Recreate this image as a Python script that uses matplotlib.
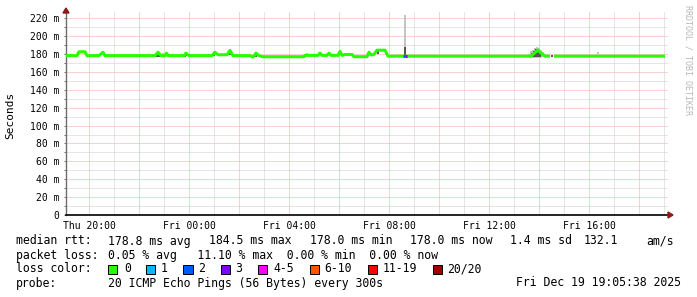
import numpy as np
import matplotlib
matplotlib.use("Agg")
import matplotlib.pyplot as plt
from matplotlib.patches import Rectangle, Polygon

# ---------------- data (hours relative to Thu 20:00) ----------------
rtt_hours = [-0.92, -0.48, -0.40, -0.16, -0.08, 0.40, 0.56, 0.64, 2.64, 2.76, 2.88,
             3.04, 3.10, 3.16, 3.80, 3.88, 4.00, 4.92, 5.04, 5.16, 5.52, 5.64, 5.76,
             6.44, 6.56, 6.68, 6.80, 6.96, 8.60, 8.64, 9.16, 9.24, 9.32, 9.52, 9.60,
             9.68, 9.96, 10.04, 10.12, 10.24, 10.52, 10.60, 11.12, 11.20, 11.28, 11.40,
             11.52, 11.84, 11.96, 17.68, 17.96, 18.12, 18.24, 18.44, np.nan, 18.60, 23.04]
rtt_ms = [178.2, 178.2, 182.5, 182.5, 178.2, 178.2, 182.0, 178.2, 178.2, 182.0, 178.2,
          178.2, 181.0, 178.2, 178.2, 181.0, 178.2, 178.2, 182.0, 179.2, 179.2, 184.0, 178.2,
          178.2, 176.5, 181.0, 178.2, 177.0, 177.0, 178.5, 178.5, 181.0, 178.5, 178.5, 181.0,
          178.5, 178.5, 183.0, 178.5, 179.5, 179.5, 177.0, 177.0, 182.0, 179.0, 179.5,
          184.3, 184.3, 177.6, 177.6, 184.5, 180.0, 177.6, 177.6, np.nan, 177.6, 177.6]

smoke_light_hours = [2.96, 3.08, 8.72, 12.64, 17.60, 17.68, 17.76, 17.84, 17.92, 18.00, 18.08, 18.16, 18.24, 20.36]
smoke_light_lo = [178.0, 178.0, 179.5, 178.0, 176.5, 176.0, 175.5, 175.5, 175.5, 175.5, 176.0, 176.5, 177.0, 180.0]
smoke_light_hi = [181.0, 181.5, 181.5, 224.0, 180.0, 183.0, 185.0, 187.0, 187.5, 186.5, 184.5, 182.0, 179.5, 182.5]

smoke_dark_hours = [2.72, 2.80, 3.84, 3.92, 5.00, 5.64, 6.68, 9.24, 9.60, 10.04, 11.20,
                    11.56, 12.64, 17.72, 17.80, 17.88, 17.96, 18.04, 18.52]
smoke_dark_lo = [177.0, 177.0, 177.0, 177.5, 178.0, 179.0, 177.0, 179.0, 179.0, 179.5, 179.0,
                 180.0, 178.0, 177.0, 177.0, 176.5, 177.0, 177.0, 177.0]
smoke_dark_hi = [182.5, 182.0, 181.5, 181.0, 182.5, 184.5, 181.5, 181.5, 181.5, 183.0, 182.0,
                 183.5, 188.0, 181.5, 183.5, 185.5, 185.0, 183.0, 178.5]

loss_hours = [12.60, 12.68]
loss_pings_idx = [2, 3]
loss_rtt = [178.0, 178.0]

loss_labels = ["0", "1", "2", "3", "4-5", "6-10", "11-19", "20/20"]
loss_colors = ["#26ff00", "#00b8ff", "#0059ff", "#7e00ff", "#ff00ff", "#ff5500", "#ff0000", "#a10000"]

x_tick_hours = [0, 4, 8, 12, 16, 20]
x_tick_labels = ["Thu 20:00", "Fri 00:00", "Fri 04:00", "Fri 08:00", "Fri 12:00", "Fri 16:00"]
y_tick_values = [0, 20, 40, 60, 80, 100, 120, 140, 160, 180, 200, 220]
y_tick_labels = ["0"] + [f"{v} m" for v in y_tick_values[1:]]

rtt_row_label = "median rtt:"
rtt_stats = ["178.8 ms avg", "184.5 ms max", "178.0 ms min", "178.0 ms now", "1.4 ms sd", "132.1", "am/s"]
loss_row_label = "packet loss:"
loss_stats = "0.05 % avg   11.10 % max  0.00 % min  0.00 % now"
probe_label = "probe:"
probe_text = "20 ICMP Echo Pings (56 Bytes) every 300s"
date_text = "Fri Dec 19 19:05:38 2025"

# ---------------- figure ----------------
W, H = 697, 297
fig = plt.figure(figsize=(W / 100, H / 100), dpi=100)
fig.patch.set_facecolor("white")

def fx(px):
    return px / W

def fy(py):
    return 1 - py / H

L, R, B, T = 66, 668, 215, 12
ax = fig.add_axes([fx(L), fy(B), (R - L) / W, (B - T) / H])
ax.set_facecolor("white")
ax.set_xlim(-0.92, 23.16)
ax.set_ylim(0, 227)

mono = "DejaVu Sans Mono"
grid_gray = "#cdcdcd"
grid_red = "#f2a6a6"
dot = (0, (1, 1))
for v in np.arange(10, 227, 10):
    ax.axhline(v, color=grid_red if v % 20 == 0 else grid_gray, lw=0.72, ls=dot, zorder=0)
for h in np.arange(0, 24, 1):
    ax.axvline(h, color=grid_red if h % 2 == 0 else grid_gray, lw=0.72, ls=dot, zorder=0)

# smoke
ax.bar(smoke_light_hours, np.array(smoke_light_hi) - np.array(smoke_light_lo), bottom=smoke_light_lo,
       width=0.085, color="#c4c4c4", linewidth=0, zorder=1)
ax.bar(smoke_dark_hours, np.array(smoke_dark_hi) - np.array(smoke_dark_lo), bottom=smoke_dark_lo,
       width=0.085, color="#555555", linewidth=0, zorder=2)

# median line
ax.plot(rtt_hours, rtt_ms, color=loss_colors[0], lw=2.2, zorder=3, solid_capstyle="butt")
for t, i, v in zip(loss_hours, loss_pings_idx, loss_rtt):
    ax.plot([t - 0.04, t + 0.04], [v, v], color=loss_colors[i], lw=2.2, zorder=4, solid_capstyle="butt")

# axes styling
for s in ["top", "right"]:
    ax.spines[s].set_visible(False)
ax.spines["left"].set_color("#6e6e6e")
ax.spines["left"].set_linewidth(1.0)
ax.spines["bottom"].set_color("black")
ax.spines["bottom"].set_linewidth(1.2)

ax.set_yticks(y_tick_values)
ax.set_yticklabels(y_tick_labels, fontfamily=mono, fontsize=7)
ax.set_yticks(np.arange(10, 227, 20), minor=True)
ax.tick_params(axis="y", which="both", length=1.5, width=0.7, color="#6e6e6e", pad=3.4)
ax.set_xticks(x_tick_hours)
ax.set_xticklabels(x_tick_labels, fontfamily=mono, fontsize=7)
ax.tick_params(axis="x", length=0, pad=4)

# arrows
fig.patches.append(Polygon([(fx(63), fy(13)), (fx(69), fy(13)), (fx(66), fy(8))], closed=True,
                           transform=fig.transFigure, color="#8b1a1a", zorder=5))
fig.patches.append(Polygon([(fx(668), fy(212)), (fx(668), fy(218)), (fx(673), fy(215))], closed=True,
                           transform=fig.transFigure, color="#8b1a1a", zorder=5))

# y label & watermark
fig.text(fx(10), fy(115), "Seconds", rotation=90, fontfamily=mono, fontsize=8, ha="center", va="center")
fig.text(fx(688), fy(60), "RRDTOOL / TOBI OETIKER", rotation=270, fontfamily=mono, fontsize=6,
         color="#b8b8b8", ha="center", va="center")

# legend rows
fs = 8.3
row_y = [241, 255, 269, 283]
fig.text(fx(16), fy(row_y[0]), rtt_row_label, fontfamily=mono, fontsize=fs, va="center")
for xpx, s in zip([108, 209, 309.5, 410, 510.5, 583.5, 646], rtt_stats):
    fig.text(fx(xpx), fy(row_y[0]), s, fontfamily=mono, fontsize=fs, va="center")

fig.text(fx(16), fy(row_y[1]), loss_row_label, fontfamily=mono, fontsize=fs, va="center")
fig.text(fx(108), fy(row_y[1]), loss_stats, fontfamily=mono, fontsize=fs, va="center")

fig.text(fx(16), fy(row_y[2]), "loss color:", fontfamily=mono, fontsize=fs, va="center")
box_x = [108, 146, 183.5, 220.5, 258, 309.5, 367.5, 432.5]
lab_x = [124, 161, 198, 235, 273, 324, 382.5, 447]
for bx, lx, c, lab in zip(box_x, lab_x, loss_colors, loss_labels):
    fig.patches.append(Rectangle((fx(bx), fy(row_y[2] + 4.5)), 9 / W, 9 / H, transform=fig.transFigure,
                                 facecolor=c, edgecolor="black", linewidth=0.7))
    fig.text(fx(lx), fy(row_y[2]), lab, fontfamily=mono, fontsize=fs, va="center")

fig.text(fx(16), fy(row_y[3]), probe_label, fontfamily=mono, fontsize=fs, va="center")
fig.text(fx(108), fy(row_y[3]), probe_text, fontfamily=mono, fontsize=fs, va="center")
fig.text(fx(681), fy(row_y[3]), date_text, fontfamily=mono, fontsize=fs, va="center", ha="right")

fig.savefig("out.png", dpi=100, facecolor="white")
